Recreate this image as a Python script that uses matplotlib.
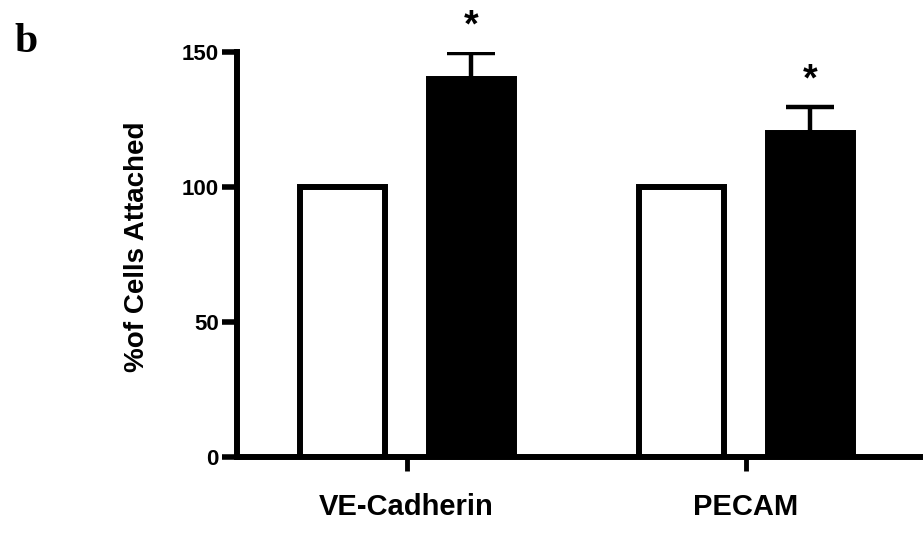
import numpy as np
import matplotlib
matplotlib.use("Agg")
import matplotlib.pyplot as plt

plt.rcParams['font.family'] = ['Liberation Sans', 'DejaVu Sans']
plt.rcParams['font.weight'] = 'bold'
plt.rcParams['axes.labelweight'] = 'bold'

categories = ['VE-Cadherin', 'PECAM']
control = [100, 100]
treated = [140, 120]
treated_err = [9.5, 9.5]
stars = ['*', '*']

x = np.arange(len(categories))
offset = 0.19
width = 0.25

fig = plt.figure(figsize=(9.23, 5.39), dpi=100)
ax = fig.add_axes([0.2568, 0.152, 0.7399, 0.7515])

ax.bar(x - offset, control, width, color='white', edgecolor='black', linewidth=4.3, zorder=1)
ax.bar(x + offset, treated, width, color='black', edgecolor='black', linewidth=4.3, zorder=1)
ax.errorbar(x + offset, treated, yerr=[np.zeros(len(x)), treated_err], fmt='none',
            ecolor='black', elinewidth=3.2, capsize=17, capthick=3.2, zorder=2)

for xi, m, e, s in zip(x + offset, treated, treated_err, stars):
    ax.annotate(s, (xi, m + e), xytext=(0, 19), textcoords='offset points',
                ha='center', va='center', fontsize=27, fontweight='bold',
                annotation_clip=False)

ax.set_xlim(-0.5, 1.513)
ax.set_ylim(0, 150)
ax.set_yticks([0, 50, 100, 150])
ax.set_xticks(x)
ax.set_xticklabels(categories, fontsize=21)
ax.tick_params(axis='y', labelsize=16, length=11, width=4, pad=2)
ax.tick_params(axis='x', length=10, width=3.5, pad=16)

for side in ['top', 'right']:
    ax.spines[side].set_visible(False)
for side in ['left', 'bottom']:
    ax.spines[side].set_linewidth(4.3)

ax.set_ylabel('%of Cells Attached', fontsize=20, fontweight='bold')
ax.yaxis.set_label_coords(-0.127, 0.52)

fig.text(0.016, 0.904, 'b', family='Liberation Serif', fontsize=30,
         fontweight='bold', va='baseline')

fig.savefig('out.png', dpi=100)
